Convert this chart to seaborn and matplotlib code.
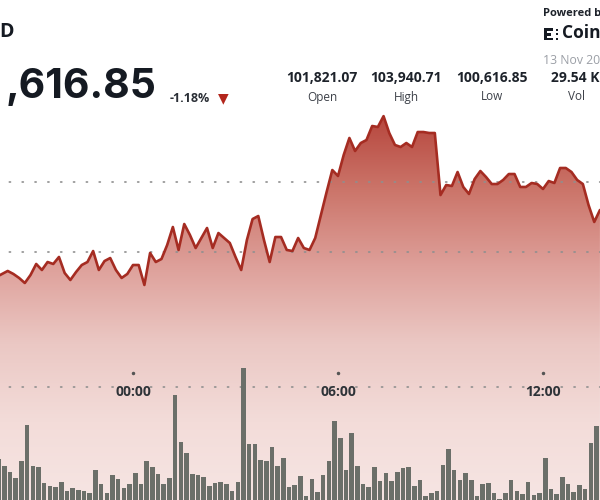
import numpy as np
import pandas as pd
import matplotlib
matplotlib.use("Agg")
import matplotlib.pyplot as plt
import matplotlib.transforms as mtransforms
from matplotlib.colors import LinearSegmentedColormap
from matplotlib.patches import Rectangle
import seaborn as sns

# ---------------- data ----------------
# minutes relative to 00:00 (10-minute steps)
minutes = list(range(-240, 830, 10))

price = [
    101643, 101686, 101729, 101686, 101629, 101557, 101671, 101829, 101743, 101857,
    101829, 101929, 101700, 101600, 101714, 101814, 101857, 102014, 101743, 101871,
    101914, 101743, 101629, 101686, 101814, 101814, 101529, 101986, 101857, 101900,
    102100, 102357, 102029, 102400, 102243, 102057, 102200, 102343, 102057, 102271,
    102200, 102129, 101929, 101743, 102171, 102471, 102514, 102171, 101857, 102214,
    102214, 102029, 102014, 102200, 102057, 102029, 102200, 102529, 102857, 103171,
    103086, 103386, 103629, 103443, 103557, 103600, 103800, 103786, 103941, 103700,
    103529, 103500, 103557, 103500, 103714, 103714, 103700, 103700, 102814, 102957,
    102943, 103143, 102929, 102829, 103043, 103157, 103071, 102971, 102971, 103029,
    103114, 103114, 102929, 102929, 102986, 102971, 102900, 103014, 102986, 103200,
    103200, 103143, 103029, 102971, 102671, 102429, 102600,
]

volume = [
    410, 340, 280, 220, 390, 750, 340, 330, 170, 140,
    130, 180, 90, 120, 100, 90, 70, 300, 160, 70,
    250, 210, 120, 160, 270, 160, 390, 330, 260, 160,
    220, 1050, 580, 470, 260, 250, 230, 140, 170, 180,
    160, 90, 180, 1320, 560, 560, 400, 390, 530, 340,
    420, 130, 150, 240, 40, 210, 80, 250, 390, 790,
    620, 300, 670, 340, 160, 130, 330, 190, 270, 190,
    280, 320, 330, 140, 200, 40, 70, 90, 350, 510,
    300, 200, 270, 200, 40, 160, 170, 70, 10, 70,
    200, 90, 60, 180, 50, 70, 420, 110, 60, 230,
    160, 80, 150, 110, 570, 740, 420,
]

tick_minutes = [0, 360, 720]
tick_labels = ["00:00", "06:00", "12:00"]
grid_prices = [103000, 102000]

# header texts (only the parts visible inside the cropped frame)
pair = "D"
last_price = ",616.85"
change_pct = "-1.18%"
stat_values = ["101,821.07", "103,940.71", "100,616.85", "29.54 K"]
stat_names = ["Open", "High", "Low", "Vol"]
powered = "Powered b"
brand = "Coin"
date_text = "13 Nov 20"

# ---------------- style ----------------
sns.set_theme(style="white")
plt.rcParams["font.family"] = ["Open Sans", "DejaVu Sans"]

W, H = 600, 500
fig = plt.figure(figsize=(6, 5), dpi=100)
fig.patch.set_facecolor("white")

ax = fig.add_axes([0, 0, 1, 1])
ax.set_facecolor("none")
ax.set_zorder(1)

# horizontal scale: 205 px per 6 hours, 00:00 at x=133
x0 = -133 * 360 / 205
x1 = (W - 133) * 360 / 205
# vertical scale: 103000 at y=182 px, 70 px per 1000
y_top = 103000 + 182 / 0.07
y_bot = 103000 - (H - 182) / 0.07

df = pd.DataFrame({"minute": minutes, "price": price, "volume": volume})

# gradient area under the line
coll = ax.fill_between(df["minute"], df["price"], y_bot, color="none", linewidth=0)
cmap = LinearSegmentedColormap.from_list(
    "g", ["#b5433a", "#cb7469", "#dea09a", "#ebc8c4", "#f3dcd9", "#f6e5e3"])
grad = np.linspace(0, 1, 256).reshape(-1, 1)
im = ax.imshow(grad, extent=[x0, x1, y_bot, 103000 + (182 - 110) / 0.07],
               origin="upper", aspect="auto", cmap=cmap, zorder=1)
im.set_clip_path(coll.get_paths()[0], ax.transData)

# dotted grid lines
dot_style = dict(color="#8f8f8f", linestyle=(2.1, (0.7, 7.0)), linewidth=1.2,
                 dash_capstyle="round", zorder=2)
for gp in grid_prices:
    ax.axhline(gp, **dot_style)
ax.plot([0, 1], [1 - 387 / H] * 2, transform=ax.transAxes, **dot_style)

# price line
sns.lineplot(data=df, x="minute", y="price", ax=ax, color="#a52c22",
             linewidth=1.9, zorder=4)

ax.set_xlim(x0, x1)
ax.set_ylim(y_bot, y_top)
ax.axis("off")

# x ticks
blend = mtransforms.blended_transform_factory(ax.transData, ax.transAxes)
for tm, tl in zip(tick_minutes, tick_labels):
    ax.plot([tm], [1 - 373 / H], marker="o", markersize=1.5, color="#555555",
            transform=blend, zorder=5)
    ax.text(tm, 1 - 392 / H, tl, transform=blend, ha="center", va="center",
            fontsize=10, fontweight="bold", color="#2e3338", zorder=5)

# volume bars
ax2 = ax.twinx()
ax2.set_zorder(2)
ax2.set_facecolor("none")
sns.barplot(x=df["minute"] + 4, y=df["volume"], native_scale=True, ax=ax2,
            color="#6b6f69", saturation=1, width=0.8, errorbar=None,
            edgecolor="none")
ax2.set_xlim(x0, x1)
ax2.set_ylim(0, H * 10)
ax2.axis("off")

# ---------------- header texts ----------------
def fx(px):
    return px / W

def fy(py):
    return 1 - py / H

fig.text(fx(14), fy(32), pair, ha="right", va="center", fontsize=14,
         fontweight="bold", color="#151a22")
fig.text(fx(156), fy(87), last_price, ha="right", va="center", fontsize=29.5,
         fontweight="bold", color="#151a22", family=["Inter", "DejaVu Sans"])
fig.text(fx(170), fy(98), change_pct, ha="left", va="center", fontsize=9,
         fontweight="bold", color="#2b2f36")
fig.text(fx(223.5), fy(98.5), "▼", ha="center", va="center", fontsize=10,
         color="#b3261c", family=["DejaVu Sans"])

stat_x = [322, 406, 492]
for sx, sv, sn in zip(stat_x, stat_values[:3], stat_names[:3]):
    fig.text(fx(sx), fy(78.5), sv, ha="center", va="center", fontsize=10,
             fontweight="bold", color="#1d222a")
    fig.text(fx(sx), fy(97), sn, ha="center", va="center", fontsize=8.5,
             color="#3c4048")
fig.text(fx(599.5), fy(78.5), stat_values[3], ha="right", va="center",
         fontsize=10, fontweight="bold", color="#1d222a")
fig.text(fx(576), fy(97), stat_names[3], ha="center", va="center",
         fontsize=8.5, color="#3c4048")

fig.text(fx(543), fy(14), powered, ha="left", va="center", fontsize=8,
         fontweight="bold", color="#1d222a")
fig.text(fx(562), fy(33.5), brand, ha="left", va="center", fontsize=12.5,
         fontweight="bold", color="#151a22")
fig.text(fx(543), fy(60), date_text, ha="left", va="center", fontsize=8.8,
         color="#9b9fa6")

# CoinDesk logo glyph (simple blocks)
logo_blocks = [(544, 28, 2.5, 12), (544, 28, 9, 2.5), (544, 33, 7, 2.5),
               (544, 37.5, 9, 2.5), (555.5, 28.5, 2, 2), (555.5, 33.2, 2, 2),
               (555.5, 38, 2, 2)]
for bx, by, bw, bh in logo_blocks:
    fig.patches.append(Rectangle((fx(bx), fy(by + bh)), bw / W, bh / H,
                                 transform=fig.transFigure, color="#151a22",
                                 linewidth=0))

fig.savefig("out.png", dpi=100)
